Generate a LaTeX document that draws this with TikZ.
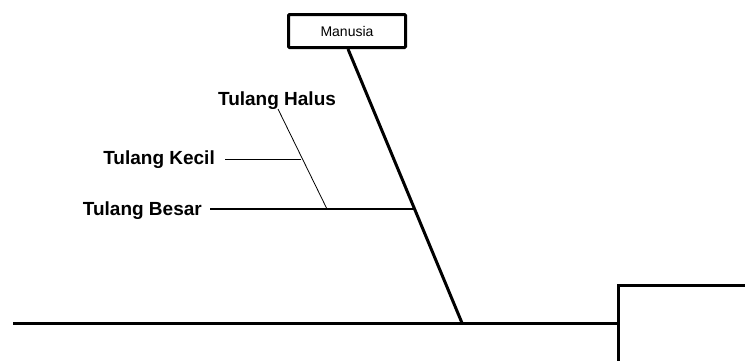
\documentclass[tikz,border=0pt]{standalone}
\usepackage{fontspec}
\setmainfont{Liberation Sans}
\begin{document}
\begin{tikzpicture}[x=1pt,y=-1pt,
  bone/.style={line width=3pt},
  bigbone/.style={line width=2pt},
  thinbone/.style={line width=0.8pt},
  label/.style={font=\fontsize{19}{22}\selectfont\bfseries, inner sep=0pt},
  headbox/.style={draw, line width=3pt, rounded corners=1pt, minimum width=117pt, minimum height=33pt, font=\fontsize{14}{16}\selectfont, inner sep=0pt}]
  \useasboundingbox (0,0) rectangle (745,360);
  % head of the fishbone
  \node[headbox] (head) at (347,31) {Manusia};
  % main spine and the right-hand frame
  \coordinate (tail) at (13,323);
  \coordinate (join) at (462,323);
  \coordinate (frame) at (618,323);
  \coordinate (frametop) at (618,285);
  \coordinate (framebot) at (618,362);
  \coordinate (frameright) at (747,285);
  \draw[bone] (tail) -- (frame);
  \draw[bone] (head.south) ++(1,0) coordinate (headfoot) -- (join);
  \draw[bone, line cap=rect] (framebot) -- (frametop) -- (frameright);
  % bones
  \node[label, anchor=east] (besar) at (202,211) {Tulang Besar};
  \node[label, anchor=east] (kecil) at (215,160) {Tulang Kecil};
  \node[label] (halus) at (277,101) {Tulang Halus};
  \coordinate (besarend) at (414,209);
  \coordinate (besarmid) at (327,209);
  \coordinate (kecilend) at (301,159);
  \coordinate (halustop) at (278,109);
  \draw[bigbone] (besar.east) ++(8,-2) -- (besarend);
  \draw[thinbone] (kecil.east) ++(10,-1) -- (kecilend);
  \draw[thinbone] (halustop) -- (besarmid);
\end{tikzpicture}
\end{document}
